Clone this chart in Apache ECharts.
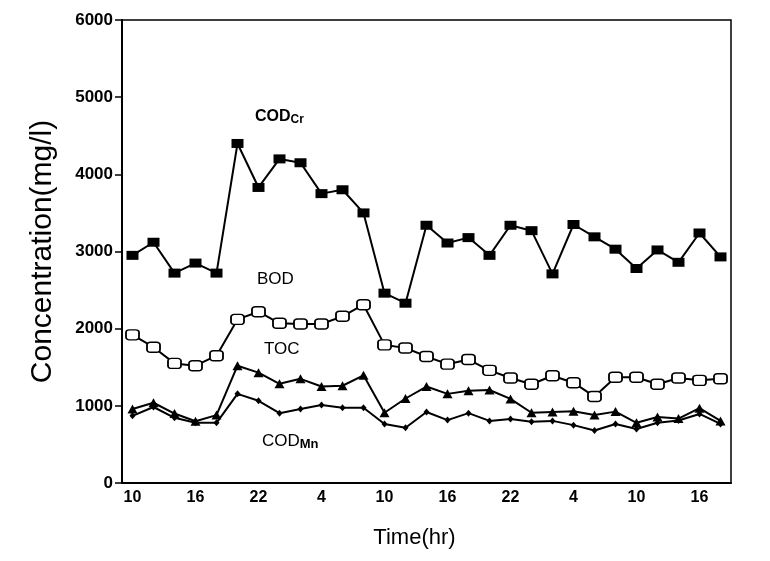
<!DOCTYPE html>
<html>
<head>
<meta charset="utf-8">
<script src="https://cdn.jsdelivr.net/npm/echarts@6/dist/echarts.min.js"></script>
<style>html,body{margin:0;padding:0;background:#fff;}#c{width:770px;height:561px;}</style>
</head>
<body>
<div id="c"></div>
<script>
// Sampling times (hour of day), every 2 hours from 10:00 day 1 to 18:00 day 3
const hours = [10,12,14,16,18,20,22,0,2,4,6,8,10,12,14,16,18,20,22,0,2,4,6,8,10,12,14,16,18];
const yTicks = [0,1000,2000,3000,4000,5000,6000];

const codCr = [2950,3120,2720,2850,2720,4400,3830,4200,4150,3750,3800,3500,2460,2330,3340,3110,3180,2950,3340,3270,2710,3350,3190,3030,2780,3020,2860,3240,2930];
const bod   = [1920,1760,1550,1520,1650,2120,2220,2070,2060,2060,2160,2310,1790,1750,1640,1540,1600,1460,1360,1280,1390,1300,1120,1370,1370,1280,1360,1330,1350];
const toc   = [960,1040,900,800,880,1520,1430,1285,1350,1250,1260,1395,910,1095,1250,1155,1195,1205,1090,910,920,930,880,925,780,855,835,970,805];
const codMn = [870,985,845,780,780,1155,1065,905,960,1010,975,975,765,715,920,815,905,805,830,795,805,750,680,765,700,780,810,895,765];

const chart = echarts.init(document.getElementById('c'));
const fontFam = '"Liberation Sans", Arial, sans-serif';

function lineSeries(name, data, symbol, size, fill) {
  return {
    name: name, type: 'line', data: data, symbol: symbol, symbolSize: size,
    showAllSymbol: true,
    lineStyle: { color: '#000', width: 2 },
    itemStyle: { color: fill, borderColor: '#000', borderWidth: fill === '#fff' ? 1.6 : 0 },
    emphasis: { disabled: true },
    z: 3
  };
}

chart.setOption({
  animation: false,
  backgroundColor: '#fff',
  grid: { left: 122, right: 39, top: 20, bottom: 78, show: true, borderColor: '#000', borderWidth: 1.5 },
  xAxis: {
    type: 'category',
    data: hours.map(String),
    boundaryGap: true,
    name: 'Time(hr)',
    nameLocation: 'middle',
    nameGap: 44,
    nameTextStyle: { fontFamily: fontFam, fontSize: 22, color: '#000', padding: [0, 24, 0, 0] },
    axisLine: { lineStyle: { color: '#000', width: 2 } },
    axisTick: { alignWithLabel: true, interval: 0, length: 5, lineStyle: { color: '#000', width: 1.5 } },
    axisLabel: { interval: 2, fontFamily: fontFam, fontSize: 16, fontWeight: 'bold', color: '#000', margin: 7 },
    splitLine: { show: false }
  },
  yAxis: {
    type: 'value',
    min: yTicks[0], max: yTicks[yTicks.length - 1], interval: 1000,
    name: 'Concentration(mg/l)',
    nameLocation: 'middle',
    nameGap: 64,
    nameRotate: 90,
    nameTextStyle: { fontFamily: fontFam, fontSize: 30, color: '#000' },
    axisLine: { show: true, lineStyle: { color: '#000', width: 2 } },
    axisTick: { show: true, length: 7, lineStyle: { color: '#000', width: 1.5 } },
    axisLabel: { fontFamily: fontFam, fontSize: 17, fontWeight: 'bold', color: '#000', margin: 9,
                 formatter: function (v) { return String(v); } },
    splitLine: { show: false }
  },
  series: [
    lineSeries('CODCr', codCr, 'rect', [12, 9], '#000'),
    lineSeries('BOD', bod, 'roundRect', [13, 10], '#fff'),
    lineSeries('TOC', toc, 'triangle', [10, 9], '#000'),
    lineSeries('CODMn', codMn, 'diamond', [6, 7], '#000')
  ],
  graphic: [
    { type: 'text', left: 255, top: 109, style: { text: '{a|COD}{b|Cr}', rich: { a: { fontFamily: fontFam, fontSize: 16, fontWeight: 'bold', fill: '#000' }, b: { fontFamily: fontFam, fontSize: 12, fontWeight: 'bold', fill: '#000', padding: [6, 0, 0, 0] } } } },
    { type: 'text', left: 257, top: 271, style: { text: 'BOD', fontFamily: fontFam, fontSize: 17, fill: '#000' } },
    { type: 'text', left: 264, top: 341, style: { text: 'TOC', fontFamily: fontFam, fontSize: 17, fill: '#000' } },
    { type: 'text', left: 262, top: 433, style: { text: '{a|COD}{b|Mn}', rich: { a: { fontFamily: fontFam, fontSize: 17, fill: '#000' }, b: { fontFamily: fontFam, fontSize: 13, fontWeight: 'bold', fill: '#000', padding: [6, 0, 0, 0] } } } }
  ]
});
</script>
</body>
</html>
